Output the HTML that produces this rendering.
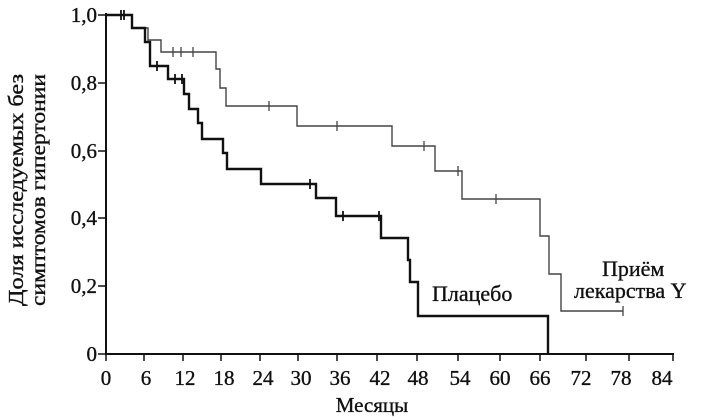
<!DOCTYPE html>
<html><head><meta charset="utf-8"><style>
html,body{margin:0;padding:0;background:#fff;}
svg{display:block;}
text{font-family:"Liberation Serif","DejaVu Serif",serif;fill:#111;stroke:#111;stroke-width:0.35;}
</style></head><body>
<svg width="718" height="420" viewBox="0 0 718 420" xmlns="http://www.w3.org/2000/svg">
<rect width="718" height="420" fill="#fff"/>
<g stroke="#111" stroke-width="2" fill="none">
<line x1="106" y1="13" x2="106" y2="355"/>
<line x1="105" y1="354" x2="674" y2="354"/>
</g>
<g stroke="#111" stroke-width="1.5">
<line x1="98" y1="15" x2="106" y2="15"/>
<line x1="98" y1="83" x2="106" y2="83"/>
<line x1="98" y1="151" x2="106" y2="151"/>
<line x1="98" y1="218" x2="106" y2="218"/>
<line x1="98" y1="286" x2="106" y2="286"/>
<line x1="98" y1="354" x2="106" y2="354"/>
<line x1="106" y1="354" x2="106" y2="361"/>
<line x1="144" y1="354" x2="144" y2="361"/>
<line x1="183" y1="354" x2="183" y2="361"/>
<line x1="221" y1="354" x2="221" y2="361"/>
<line x1="260" y1="354" x2="260" y2="361"/>
<line x1="298" y1="354" x2="298" y2="361"/>
<line x1="337" y1="354" x2="337" y2="361"/>
<line x1="377" y1="354" x2="377" y2="361"/>
<line x1="417" y1="354" x2="417" y2="361"/>
<line x1="458" y1="354" x2="458" y2="361"/>
<line x1="500" y1="354" x2="500" y2="361"/>
<line x1="540" y1="354" x2="540" y2="361"/>
<line x1="586" y1="354" x2="586" y2="361"/>
<line x1="629" y1="354" x2="629" y2="361"/>
<line x1="673" y1="354" x2="673" y2="361"/>
</g>
<g font-size="21" text-anchor="end">
<text x="97" y="22">1,0</text>
<text x="97" y="90">0,8</text>
<text x="97" y="158">0,6</text>
<text x="97" y="225">0,4</text>
<text x="97" y="293">0,2</text>
<text x="97" y="361">0</text>
</g>
<g font-size="21" text-anchor="middle">
<text x="106" y="385">0</text>
<text x="146" y="385">6</text>
<text x="185" y="385">12</text>
<text x="224" y="385">18</text>
<text x="263" y="385">24</text>
<text x="301" y="385">30</text>
<text x="340" y="385">36</text>
<text x="380" y="385">42</text>
<text x="418" y="385">48</text>
<text x="460" y="385">54</text>
<text x="500" y="385">60</text>
<text x="540" y="385">66</text>
<text x="581" y="385">72</text>
<text x="621" y="385">78</text>
<text x="662" y="385">84</text>
<text x="372" y="412">Месяцы</text>
</g>
<g font-size="21" text-anchor="middle">
<text transform="translate(23,190) rotate(-90)" textLength="232" lengthAdjust="spacingAndGlyphs">Доля исследуемых без</text>
<text transform="translate(45,190) rotate(-90)" textLength="232" lengthAdjust="spacingAndGlyphs">симптомов гипертонии</text>
</g>
<polyline fill="none" stroke="#444" stroke-width="1.4" points="106,15 132,15 132,28 148,28 148,40 161,40 161,52 216,52 216,69 220,69 220,88 226,88 226,106 297,106 297,126 392,126 392,146 435,146 435,171 462,171 462,199 540,199 540,236 549,236 549,274 561,274 561,311 623,311"/>
<g stroke="#444" stroke-width="1.3">
<line x1="173" y1="47" x2="173" y2="57"/><line x1="181" y1="47" x2="181" y2="57"/><line x1="193" y1="47" x2="193" y2="57"/>
<line x1="269" y1="101" x2="269" y2="111"/><line x1="337" y1="121" x2="337" y2="131"/>
<line x1="424" y1="141" x2="424" y2="151"/><line x1="458" y1="166" x2="458" y2="176"/>
<line x1="496" y1="194" x2="496" y2="204"/><line x1="623" y1="306" x2="623" y2="316"/>
</g>
<polyline fill="none" stroke="#111" stroke-width="2.4" points="106,15 132,15 132,28 145,28 145,42 150,42 150,66 168,66 168,79 184,79 184,94 189,94 189,109 198,109 198,123 202,123 202,139 223,139 223,153 227,153 227,169 261,169 261,184 316,184 316,198 336,198 336,216 381,216 381,238 408,238 408,260 410,260 410,282 418,282 418,316 548,316 548,354"/>
<g stroke="#111" stroke-width="1.8">
<line x1="121" y1="10" x2="121" y2="20"/><line x1="124" y1="10" x2="124" y2="20"/>
<line x1="157" y1="61" x2="157" y2="71"/><line x1="175" y1="74" x2="175" y2="84"/><line x1="182" y1="74" x2="182" y2="84"/>
<line x1="310" y1="179" x2="310" y2="189"/><line x1="343" y1="211" x2="343" y2="221"/><line x1="379" y1="211" x2="379" y2="221"/>
</g>
<g font-size="22">
<text x="432" y="301">Плацебо</text>
<text x="602" y="276">Приём</text>
<text x="574" y="298">лекарства Y</text>
</g>
</svg>
</body></html>
